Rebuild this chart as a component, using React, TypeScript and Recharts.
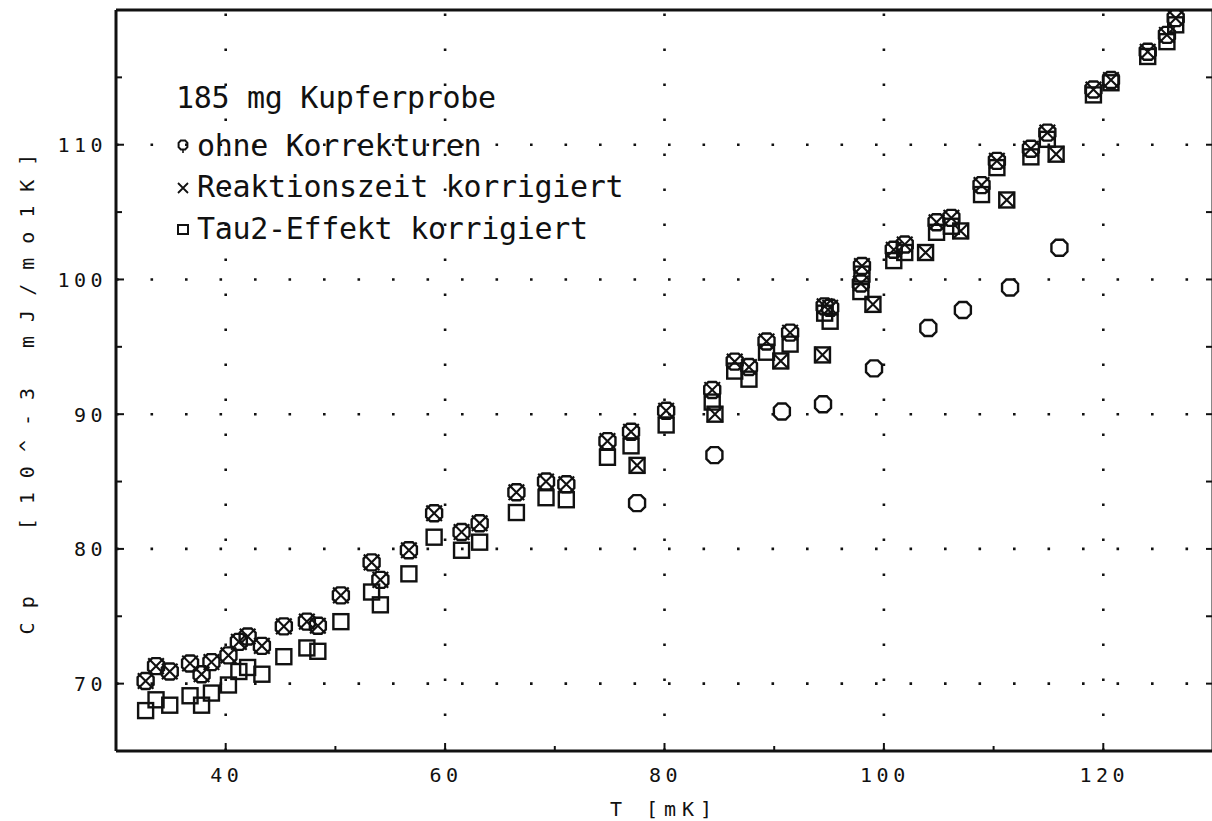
import React from "react";
import { ReferenceLine, Scatter, ScatterChart, XAxis, YAxis } from "recharts";

// Messreihe 185 mg Kupferprobe: T in mK, Cp in 10^-3 mJ/molK
const tempMK = [
  32.7, 33.65, 34.9, 36.75, 37.8, 38.7, 40.25, 41.2, 42.0, 43.3, 45.3, 47.4, 48.4, 50.5, 53.3, 54.1, 56.7, 59.0,
  61.5, 63.15, 66.5, 69.2, 71.05, 74.8, 76.95, 77.5, 80.15, 84.35, 84.6, 86.4, 87.7, 89.3, 90.6, 91.45, 94.4,
  94.6, 95.1, 97.9, 98.0, 99.0, 100.9, 101.9, 103.8, 104.8, 106.15, 107.0, 108.9, 110.3, 111.2, 113.4, 114.9,
  115.7, 119.1, 120.7, 124.05, 125.8, 126.6,
];
const cpReaktion = [
  70.2, 71.3, 70.9, 71.5, 70.7, 71.6, 72.1, 73.1, 73.5, 72.8, 74.25, 74.6, 74.3, 76.55, 79.0, 77.7, 79.9, 82.65,
  81.25, 81.9, 84.2, 85.0, 84.8, 88.0, 88.7, 86.2, 90.25, 91.8, 90.0, 93.9, 93.5, 95.4, 93.95, 96.05, 94.4,
  98.0, 97.9, 99.7, 101.0, 98.15, 102.2, 102.6, 102.0, 104.25, 104.57, 103.6, 107.0, 108.8, 105.9, 109.7, 110.9,
  109.3, 114.1, 114.8, 116.9, 118.15, 119.4,
];
const cpTau2 = [
  68.0, 68.8, 68.4, 69.1, 68.4, 69.3, 69.9, 70.9, 71.2, 70.7, 72.0, 72.65, 72.4, 74.6, 76.8, 75.85, 78.15, 80.87,
  79.9, 80.5, 82.7, 83.8, 83.65, 86.8, 87.65, 86.2, 89.2, 90.9, 90.0, 93.2, 92.6, 94.6, 93.95, 95.2, 94.4,
  97.5, 96.9, 99.1, 100.4, 98.15, 101.4, 102.0, 102.0, 103.5, 103.95, 103.6, 106.3, 108.3, 105.9, 109.1, 110.4,
  109.3, 113.7, 114.6, 116.55, 117.65, 118.9,
];
const tempOhne = [
  32.7, 33.65, 34.9, 36.75, 37.8, 38.7, 40.25, 41.2, 42.0, 43.3, 45.3, 47.4, 48.4, 50.5, 53.3, 54.1, 56.7, 59.0,
  61.5, 63.15, 66.5, 69.2, 71.05, 74.8, 76.95, 77.5, 80.15, 84.35, 84.55, 86.4, 87.7, 89.3, 90.7, 91.45, 94.45,
  94.6, 95.1, 97.9, 98.0, 99.1, 100.9, 101.9, 104.05, 104.8, 106.15, 107.2, 108.9, 110.3, 111.5, 113.4, 114.9,
  116.0, 119.1, 120.7, 124.05, 125.8, 126.6,
];
const cpOhne = [
  70.2, 71.3, 70.9, 71.5, 70.7, 71.6, 72.1, 73.1, 73.5, 72.8, 74.25, 74.6, 74.3, 76.55, 79.0, 77.7, 79.9, 82.65,
  81.25, 81.9, 84.2, 85.0, 84.8, 88.0, 88.7, 83.4, 90.25, 91.8, 86.96, 93.9, 93.5, 95.4, 90.2, 96.05, 90.74,
  98.0, 97.9, 99.7, 101.0, 93.4, 102.2, 102.6, 96.4, 104.25, 104.57, 97.73, 107.0, 108.8, 99.4, 109.7, 110.9,
  102.35, 114.1, 114.8, 116.9, 118.15, 119.4,
];

const xTicks = [30, 40, 50, 60, 70, 80, 90, 100, 110, 120, 130];
const xLabels = [40, 60, 80, 100, 120];
const yTicks = [65, 70, 75, 80, 85, 90, 95, 100, 105, 110, 115, 120];
const yLabels = [70, 80, 90, 100, 110];
const gridT = [40, 60, 80, 100, 120];
const gridCp = [70, 80, 90, 100, 110];

const FONT = '"DejaVu Sans Mono", monospace';
const INK = "#111";

const ohne = tempOhne.map((T, i) => ({ T, cp: cpOhne[i] }));
const reaktion = tempMK.map((T, i) => ({ T, cp: cpReaktion[i] }));
const tau2 = tempMK.map((T, i) => ({ T, cp: cpTau2[i] }));

// plotter circles come out as octagons: half width h, corner cut c
function octagon(cx: number, cy: number, h: number, c: number) {
  const p = [
    [-h + c, -h], [h - c, -h], [h, -h + c], [h, h - c],
    [h - c, h], [-h + c, h], [-h, h - c], [-h, -h + c],
  ];
  return p.map(([dx, dy]) => `${(cx + dx).toFixed(2)},${(cy + dy).toFixed(2)}`).join(" ");
}

function Ring({ cx, cy }: any) {
  return <polygon points={octagon(cx, cy, 8, 4.2)} fill="none" stroke={INK} strokeWidth={2.4} />;
}

function Cross({ cx, cy }: any) {
  const d = 7.8;
  return (
    <path
      d={`M${cx - d},${cy - d}L${cx + d},${cy + d}M${cx - d},${cy + d}L${cx + d},${cy - d}`}
      stroke={INK}
      strokeWidth={2.1}
      fill="none"
    />
  );
}

function Box({ cx, cy }: any) {
  return <rect x={cx - 7.5} y={cy - 7.5} width={15} height={15} fill="none" stroke={INK} strokeWidth={2.4} />;
}

const labelStyle = { fontFamily: FONT, fontSize: 20, letterSpacing: 4.5, fill: INK } as const;

function BottomTick({ x, y, payload }: any) {
  const v = payload.value;
  const major = v % 20 === 0;
  return (
    <g>
      <line x1={x} y1={y} x2={x} y2={y - (major ? 8 : 5)} stroke={INK} strokeWidth={2} />
      {xLabels.includes(v) && (
        <text x={x + 1} y={y + 31} textAnchor="middle" style={labelStyle}>
          {v}
        </text>
      )}
    </g>
  );
}

function TopTick({ x, y }: any) {
  return <line x1={x} y1={y} x2={x} y2={y + 6} stroke={INK} strokeWidth={2} />;
}

function LeftTick({ x, y, payload }: any) {
  const v = payload.value;
  const major = v % 10 === 0;
  return (
    <g>
      <line x1={x} y1={y} x2={x + (major ? 8 : 6)} y2={y} stroke={INK} strokeWidth={2} />
      {yLabels.includes(v) && (
        <text x={x - 9} y={y + 7.5} textAnchor="end" style={labelStyle}>
          {v}
        </text>
      )}
    </g>
  );
}

function RightTick({ x, y }: any) {
  return <line x1={x} y1={y} x2={x - 7} y2={y} stroke={INK} strokeWidth={2} />;
}

export default function App() {
  return (
    <div
      style={{
        position: "absolute",
        left: 0,
        top: 0,
        width: 1212,
        height: 821,
        overflow: "hidden",
        background: "#fff",
      }}
    >
      <ScatterChart width={1216} height={821} margin={{ top: 9, right: 0, bottom: 0, left: 0 }}>
        <XAxis
          type="number"
          dataKey="T"
          domain={[30, 130]}
          ticks={xTicks}
          interval={0}
          height={70}
          tickSize={0}
          tickMargin={0}
          tickLine={false}
          axisLine={{ stroke: INK, strokeWidth: 3 }}
          tick={<BottomTick />}
          allowDataOverflow
        />
        <XAxis
          xAxisId="top"
          orientation="top"
          type="number"
          domain={[30, 130]}
          ticks={xTicks}
          interval={0}
          height={1}
          tickSize={0}
          tickMargin={0}
          tickLine={false}
          axisLine={{ stroke: INK, strokeWidth: 3 }}
          tick={<TopTick />}
          allowDataOverflow
        />
        <YAxis
          type="number"
          dataKey="cp"
          domain={[65, 120]}
          ticks={yTicks}
          interval={0}
          width={116}
          tickSize={0}
          tickMargin={0}
          tickLine={false}
          axisLine={{ stroke: INK, strokeWidth: 3 }}
          tick={<LeftTick />}
          allowDataOverflow
        />
        <YAxis
          yAxisId="r"
          orientation="right"
          type="number"
          domain={[65, 120]}
          ticks={yTicks}
          interval={0}
          width={3}
          tickSize={0}
          tickMargin={0}
          tickLine={false}
          axisLine={{ stroke: INK, strokeWidth: 3 }}
          tick={<RightTick />}
          allowDataOverflow
        />
        {gridT.map((v) => (
          <ReferenceLine key={`t${v}`} x={v} stroke={INK} strokeWidth={2.6} strokeDasharray="2.6 32.4" />
        ))}
        {gridCp.map((v) => (
          <ReferenceLine key={`c${v}`} y={v} stroke={INK} strokeWidth={2.6} strokeDasharray="2.6 31.9" />
        ))}
        <Scatter name="Tau2-Effekt korrigiert" data={tau2} shape={<Box />} isAnimationActive={false} />
        <Scatter name="ohne Korrekturen" data={ohne} shape={<Ring />} isAnimationActive={false} />
        <Scatter name="Reaktionszeit korrigiert" data={reaktion} shape={<Cross />} isAnimationActive={false} />
      </ScatterChart>

      <svg
        width={1212}
        height={821}
        style={{ position: "absolute", left: 0, top: 0, pointerEvents: "none" }}
      >
        <g style={{ fontFamily: FONT, fontSize: 30, letterSpacing: -0.3, fill: INK }}>
          <text x={176} y={108}>185 mg Kupferprobe</text>
          <polygon points={octagon(183, 145, 4.4, 2.2)} fill="none" stroke={INK} strokeWidth={2} />
          <line x1={183} y1={149.5} x2={183} y2={153} stroke={INK} strokeWidth={1.6} />
          <text x={197} y={156}>ohne Korrekturen</text>
          <path d="M178,183L188,193M178,193L188,183" stroke={INK} strokeWidth={1.8} />
          <text x={197} y={197}>Reaktionszeit korrigiert</text>
          <rect x={178} y={225} width={10} height={9} fill="none" stroke={INK} strokeWidth={2} />
          <text x={197} y={239}>Tau2-Effekt korrigiert</text>
        </g>
        <text
          x={27}
          y={387}
          transform="rotate(-90 27 387)"
          textAnchor="middle"
          dominantBaseline="central"
          style={{ fontFamily: FONT, fontSize: 20, letterSpacing: 14, fill: INK, whiteSpace: "pre" }}
        >
          {"Cp  [10^-3 mJ/mo1K]"}
        </text>
        <text
          x={664}
          y={816}
          textAnchor="middle"
          style={{ fontFamily: FONT, fontSize: 20, letterSpacing: 6, fill: INK, whiteSpace: "pre" }}
        >
          {"T [mK]"}
        </text>
      </svg>
    </div>
  );
}
